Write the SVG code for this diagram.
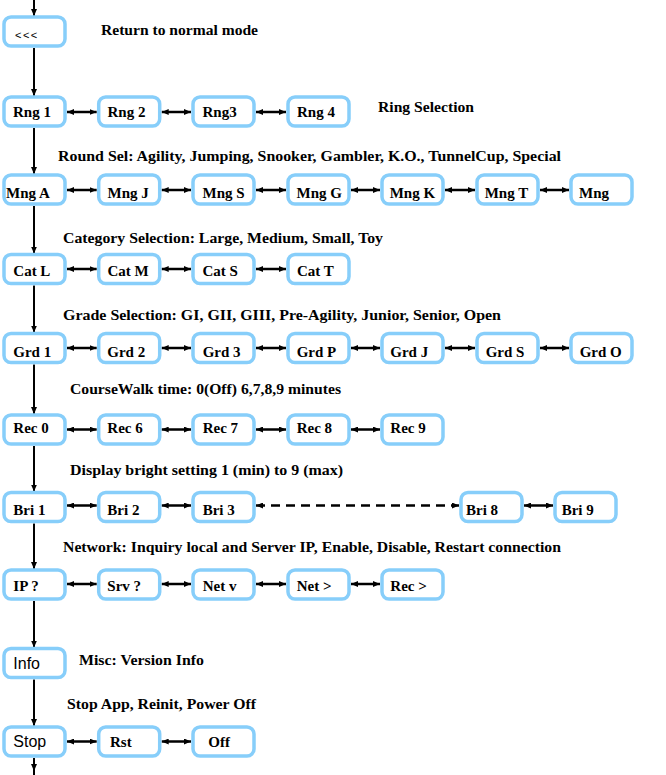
<svg xmlns="http://www.w3.org/2000/svg" width="666" height="775" viewBox="0 0 666 775">
<style>
.box{fill:#fff;stroke:#87CEFA;stroke-width:3.5}
.t{font-family:"Liberation Serif","Times New Roman",serif;font-weight:bold;font-size:15px;fill:#000}
.s{font-family:"Liberation Sans",Arial,sans-serif;font-size:16px;fill:#000}
.lab{font-family:"Liberation Serif","Times New Roman",serif;font-weight:bold;font-size:15.5px;fill:#000}
.h{stroke:#000;stroke-width:2.5;fill:none;marker-start:url(#ah);marker-end:url(#ah)}
.v{stroke:#000;stroke-width:2;fill:none;marker-end:url(#av)}
.d{stroke:#000;stroke-width:2.5;fill:none;stroke-dasharray:9 6;marker-start:url(#ah);marker-end:url(#ah)}
</style>
<defs>
<marker id="ah" markerUnits="userSpaceOnUse" markerWidth="8" markerHeight="6" refX="7" refY="3" orient="auto-start-reverse"><path d="M0,0 L7,3 L0,6 z" fill="#000"/></marker>
<marker id="av" markerUnits="userSpaceOnUse" markerWidth="8" markerHeight="7" refX="7" refY="3.5" orient="auto"><path d="M0,0.5 L7,3.5 L0,6.5 z" fill="#000"/></marker>
</defs>
<rect width="666" height="775" fill="#fff"/>

<g id="connectors">
<line class="v" x1="34" y1="0" x2="34" y2="16"/>
<line class="v" x1="34" y1="48" x2="34" y2="96"/>
<line class="v" x1="34" y1="128" x2="34" y2="174"/>
<line class="v" x1="34" y1="206" x2="34" y2="253.5"/>
<line class="v" x1="34" y1="285.5" x2="34" y2="332.5"/>
<line class="v" x1="34" y1="364.5" x2="34" y2="414"/>
<line class="v" x1="34" y1="446" x2="34" y2="491.5"/>
<line class="v" x1="34" y1="523.5" x2="34" y2="569"/>
<line class="v" x1="34" y1="601" x2="34" y2="647.5"/>
<line class="v" x1="34" y1="679.5" x2="34" y2="726"/>
<line class="v" x1="34" y1="758" x2="34" y2="771"/>
<line x1="34" y1="768" x2="34" y2="775" stroke="#000" stroke-width="2"/>

<line class="h" x1="67" y1="112" x2="96.7" y2="112"/>
<line class="h" x1="161.7" y1="112" x2="191" y2="112"/>
<line class="h" x1="256" y1="112" x2="286" y2="112"/>

<line class="h" x1="67" y1="190" x2="96.7" y2="190"/>
<line class="h" x1="161.7" y1="190" x2="191" y2="190"/>
<line class="h" x1="256" y1="190" x2="286" y2="190"/>
<line class="h" x1="351" y1="190" x2="380" y2="190"/>
<line class="h" x1="445" y1="190" x2="475" y2="190"/>
<line class="h" x1="540" y1="190" x2="569" y2="190"/>

<line class="h" x1="67" y1="269" x2="96.7" y2="269"/>
<line class="h" x1="161.7" y1="269" x2="191" y2="269"/>
<line class="h" x1="256" y1="269" x2="286" y2="269"/>

<line class="h" x1="67" y1="348" x2="96.7" y2="348"/>
<line class="h" x1="161.7" y1="348" x2="191" y2="348"/>
<line class="h" x1="256" y1="348" x2="286" y2="348"/>
<line class="h" x1="351" y1="348" x2="380" y2="348"/>
<line class="h" x1="445" y1="348" x2="475" y2="348"/>
<line class="h" x1="540" y1="348" x2="569" y2="348"/>

<line class="h" x1="67" y1="429.5" x2="96.7" y2="429.5"/>
<line class="h" x1="161.7" y1="429.5" x2="191" y2="429.5"/>
<line class="h" x1="256" y1="429.5" x2="286" y2="429.5"/>
<line class="h" x1="351" y1="429.5" x2="380" y2="429.5"/>

<line class="h" x1="67" y1="505.5" x2="96.7" y2="505.5"/>
<line class="h" x1="161.7" y1="505.5" x2="191" y2="505.5"/>
<line class="d" x1="256" y1="505.5" x2="459" y2="505.5"/>
<line class="h" x1="524" y1="505.5" x2="553" y2="505.5"/>

<line class="h" x1="67" y1="584" x2="96.7" y2="584"/>
<line class="h" x1="161.7" y1="584" x2="191" y2="584"/>
<line class="h" x1="256" y1="584" x2="286" y2="584"/>
<line class="h" x1="351" y1="584" x2="380" y2="584"/>

<line class="h" x1="67" y1="741.5" x2="96.7" y2="741.5"/>
<line class="h" x1="161.7" y1="741.5" x2="191" y2="741.5"/>
</g>

<g id="labels">
<text class="lab" x="101" y="35" textLength="157" lengthAdjust="spacingAndGlyphs">Return to normal mode</text>
<text class="lab" x="378" y="112" textLength="96" lengthAdjust="spacingAndGlyphs">Ring Selection</text>
<text class="lab" x="58" y="161" textLength="503" lengthAdjust="spacingAndGlyphs">Round Sel: Agility, Jumping, Snooker, Gambler, K.O., TunnelCup, Special</text>
<text class="lab" x="63" y="243" textLength="320" lengthAdjust="spacingAndGlyphs">Category Selection: Large, Medium, Small, Toy</text>
<text class="lab" x="63" y="320" textLength="438" lengthAdjust="spacingAndGlyphs">Grade Selection: GI, GII, GIII, Pre-Agility, Junior, Senior, Open</text>
<text class="lab" x="70" y="394" textLength="271" lengthAdjust="spacingAndGlyphs">CourseWalk time: 0(Off) 6,7,8,9 minutes</text>
<text class="lab" x="70" y="475" textLength="273" lengthAdjust="spacingAndGlyphs">Display bright setting 1 (min) to 9 (max)</text>
<text class="lab" x="63" y="552" textLength="498" lengthAdjust="spacingAndGlyphs">Network: Inquiry local and Server IP, Enable, Disable, Restart connection</text>
<text class="lab" x="79" y="665" textLength="125" lengthAdjust="spacingAndGlyphs">Misc: Version Info</text>
<text class="lab" x="67" y="709" textLength="189" lengthAdjust="spacingAndGlyphs">Stop App, Reinit, Power Off</text>
</g>

<g id="n-back"><rect class="box" x="4" y="17" width="61" height="29" rx="7"/><text class="s" x="15" y="39" style="font-size:11px;letter-spacing:1.5px">&lt;&lt;&lt;</text></g>

<g id="n-rng1"><rect class="box" x="4" y="97" width="61" height="29" rx="7"/><text class="t" x="13" y="117">Rng 1</text></g>
<g id="n-rng2"><rect class="box" x="98.7" y="97" width="61" height="29" rx="7"/><text class="t" x="107.5" y="117">Rng 2</text></g>
<g id="n-rng3"><rect class="box" x="193" y="97" width="61" height="29" rx="7"/><text class="t" x="202.5" y="117">Rng3</text></g>
<g id="n-rng4"><rect class="box" x="288" y="97" width="61" height="29" rx="7"/><text class="t" x="297" y="117">Rng 4</text></g>

<g id="n-mnga"><rect class="box" x="4" y="175" width="61" height="29" rx="7"/><text class="t" x="6" y="198">Mng A</text></g>
<g id="n-mngj"><rect class="box" x="98.7" y="175" width="61" height="29" rx="7"/><text class="t" x="107.5" y="198">Mng J</text></g>
<g id="n-mngs"><rect class="box" x="193" y="175" width="61" height="29" rx="7"/><text class="t" x="202.5" y="198">Mng S</text></g>
<g id="n-mngg"><rect class="box" x="288" y="175" width="61" height="29" rx="7"/><text class="t" x="296.5" y="198">Mng G</text></g>
<g id="n-mngk"><rect class="box" x="382" y="175" width="61" height="29" rx="7"/><text class="t" x="389.7" y="198">Mng K</text></g>
<g id="n-mngt"><rect class="box" x="477" y="175" width="61" height="29" rx="7"/><text class="t" x="484.7" y="198">Mng T</text></g>
<g id="n-mng"><rect class="box" x="571" y="175" width="61" height="29" rx="7"/><text class="t" x="579" y="198">Mng</text></g>

<g id="n-catl"><rect class="box" x="4" y="254.5" width="61" height="29" rx="7"/><text class="t" x="13.3" y="276">Cat L</text></g>
<g id="n-catm"><rect class="box" x="98.7" y="254.5" width="61" height="29" rx="7"/><text class="t" x="107.5" y="276">Cat M</text></g>
<g id="n-cats"><rect class="box" x="193" y="254.5" width="61" height="29" rx="7"/><text class="t" x="202.5" y="276">Cat S</text></g>
<g id="n-catt"><rect class="box" x="288" y="254.5" width="61" height="29" rx="7"/><text class="t" x="297" y="276">Cat T</text></g>

<g id="n-grd1"><rect class="box" x="4" y="333.5" width="61" height="29" rx="7"/><text class="t" x="13.3" y="357">Grd 1</text></g>
<g id="n-grd2"><rect class="box" x="98.7" y="333.5" width="61" height="29" rx="7"/><text class="t" x="107.3" y="357">Grd 2</text></g>
<g id="n-grd3"><rect class="box" x="193" y="333.5" width="61" height="29" rx="7"/><text class="t" x="202.7" y="357">Grd 3</text></g>
<g id="n-grdp"><rect class="box" x="288" y="333.5" width="61" height="29" rx="7"/><text class="t" x="296.7" y="357">Grd P</text></g>
<g id="n-grdj"><rect class="box" x="382" y="333.5" width="61" height="29" rx="7"/><text class="t" x="390.3" y="357">Grd J</text></g>
<g id="n-grds"><rect class="box" x="477" y="333.5" width="61" height="29" rx="7"/><text class="t" x="485.7" y="357">Grd S</text></g>
<g id="n-grdo"><rect class="box" x="571" y="333.5" width="61" height="29" rx="7"/><text class="t" x="579.7" y="357">Grd O</text></g>

<g id="n-rec0"><rect class="box" x="4" y="415" width="61" height="29" rx="7"/><text class="t" x="13.3" y="433">Rec 0</text></g>
<g id="n-rec6"><rect class="box" x="98.7" y="415" width="61" height="29" rx="7"/><text class="t" x="107.3" y="433">Rec 6</text></g>
<g id="n-rec7"><rect class="box" x="193" y="415" width="61" height="29" rx="7"/><text class="t" x="202.7" y="433">Rec 7</text></g>
<g id="n-rec8"><rect class="box" x="288" y="415" width="61" height="29" rx="7"/><text class="t" x="296.7" y="433">Rec 8</text></g>
<g id="n-rec9"><rect class="box" x="382" y="415" width="61" height="29" rx="7"/><text class="t" x="390.3" y="433">Rec 9</text></g>

<g id="n-bri1"><rect class="box" x="4" y="492.5" width="61" height="29" rx="7"/><text class="t" x="13.3" y="515">Bri 1</text></g>
<g id="n-bri2"><rect class="box" x="98.7" y="492.5" width="61" height="29" rx="7"/><text class="t" x="107.3" y="515">Bri 2</text></g>
<g id="n-bri3"><rect class="box" x="193" y="492.5" width="61" height="29" rx="7"/><text class="t" x="202.7" y="515">Bri 3</text></g>
<g id="n-bri8"><rect class="box" x="461" y="492.5" width="61" height="29" rx="7"/><text class="t" x="466" y="515">Bri 8</text></g>
<g id="n-bri9"><rect class="box" x="555" y="492.5" width="61" height="29" rx="7"/><text class="t" x="561.7" y="515">Bri 9</text></g>

<g id="n-ip"><rect class="box" x="4" y="570" width="61" height="29" rx="7"/><text class="t" x="13.3" y="590.5">IP ?</text></g>
<g id="n-srv"><rect class="box" x="98.7" y="570" width="61" height="29" rx="7"/><text class="t" x="107.3" y="590.5">Srv ?</text></g>
<g id="n-netv"><rect class="box" x="193" y="570" width="61" height="29" rx="7"/><text class="t" x="202.7" y="590.5">Net v</text></g>
<g id="n-netgt"><rect class="box" x="288" y="570" width="61" height="29" rx="7"/><text class="t" x="296.7" y="590.5">Net &gt;</text></g>
<g id="n-recgt"><rect class="box" x="382" y="570" width="61" height="29" rx="7"/><text class="t" x="390.3" y="590.5">Rec &gt;</text></g>

<g id="n-info"><rect class="box" x="4" y="648.5" width="61" height="29" rx="7"/><text class="s" x="13.3" y="669">Info</text></g>

<g id="n-stop"><rect class="box" x="4" y="727" width="61" height="29" rx="7"/><text class="s" x="13.3" y="747">Stop</text></g>
<g id="n-rst"><rect class="box" x="98.7" y="727" width="61" height="29" rx="7"/><text class="t" x="110" y="747">Rst</text></g>
<g id="n-off"><rect class="box" x="193" y="727" width="61" height="29" rx="7"/><text class="t" x="208.3" y="747">Off</text></g>
</svg>
